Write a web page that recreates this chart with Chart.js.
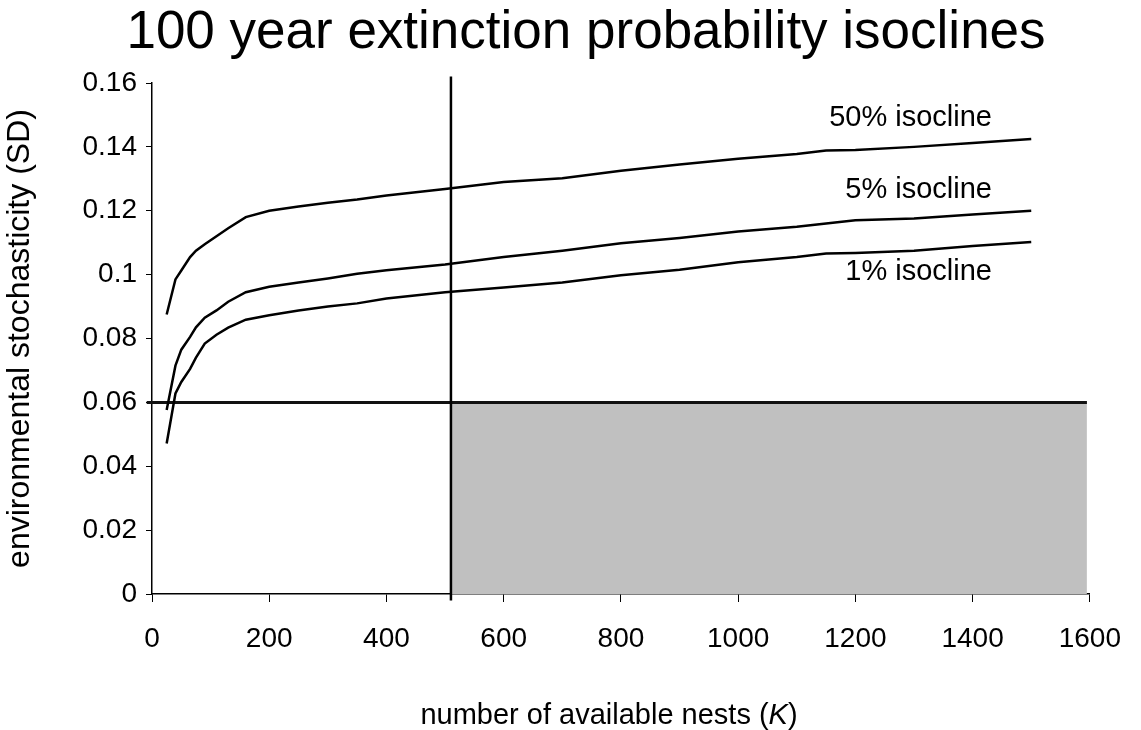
<!DOCTYPE html>
<html>
<head>
<meta charset="utf-8">
<title>100 year extinction probability isoclines</title>
<script src="https://cdn.jsdelivr.net/npm/chart.js@4.4.1/dist/chart.umd.min.js"></script>
<style>
    html, body { margin: 0; padding: 0; background: #fff; }
    #wrap { width: 1141px; height: 730px; }
</style>
</head>
<body>
<div id="wrap"><canvas id="isoChart" width="1141" height="730"></canvas></div>
<script>
    "use strict";

    // number of available nests (K)
    const nests = [25, 40, 50, 65, 75, 90, 110, 130, 160, 200, 250, 300, 350, 400,
                   500, 600, 700, 800, 900, 1000, 1100, 1150, 1200, 1300, 1400, 1500];

    // environmental SD giving each extinction probability
    const iso50 = [0.0875, 0.0985, 0.1013, 0.1055, 0.1075, 0.1095, 0.1120, 0.1145, 0.1180, 0.1200,
                   0.1213, 0.1225, 0.1235, 0.1248, 0.1268, 0.1290, 0.1302, 0.1325, 0.1345, 0.1363,
                   0.1378, 0.1389, 0.1390, 0.1400, 0.1412, 0.1425];
    const iso5  = [0.0576, 0.0715, 0.0765, 0.0805, 0.0835, 0.0865, 0.0888, 0.0915, 0.0945, 0.0962,
                   0.0975, 0.0988, 0.1003, 0.1014, 0.1032, 0.1055, 0.1075, 0.1098, 0.1115, 0.1135,
                   0.1150, 0.1160, 0.1170, 0.1176, 0.1188, 0.1200];
    const iso1  = [0.0471, 0.0628, 0.0664, 0.0705, 0.0740, 0.0784, 0.0812, 0.0834, 0.0859, 0.0873,
                   0.0888, 0.0900, 0.0910, 0.0925, 0.0945, 0.0960, 0.0975, 0.0998, 0.1015, 0.1039,
                   0.1055, 0.1066, 0.1068, 0.1075, 0.1090, 0.1102];

    const isoNames = ['50% isocline', '5% isocline', '1% isocline'];

    // threshold lines and the shaded viable region
    const kLimit = 510;
    const sdLimit = 0.06;
    const kShadeEnd = 1595;

    const FONT = '"Liberation Sans", Arial, sans-serif';

    function toPoints(xs, ys) {
        return xs.map((k, i) => ({ x: k, y: ys[i] }));
    }

    function curve(values) {
        return {
            data: toPoints(nests, values),
            borderColor: '#000',
            borderWidth: 2.5,
            pointRadius: 0,
            tension: 0,
            fill: false,
            order: 1
        };
    }

    // Title, x axis title (italic K) and isocline labels
    const textPlugin = {
        id: 'isoText',
        afterDraw(chart) {
            const ctx = chart.ctx;
            const xs = chart.scales.x;
            const ys = chart.scales.y;
            ctx.save();
            ctx.fillStyle = '#000';
            ctx.textBaseline = 'middle';

            ctx.font = '53px ' + FONT;
            ctx.textAlign = 'center';
            ctx.fillText('100 year extinction probability isoclines', 586, 33);

            // x axis title in three pieces so K can be italic
            const parts = [['number of available nests (', ''], ['K', 'italic '], [')', '']];
            let total = 0;
            parts.forEach(p => {
                ctx.font = p[1] + '29px ' + FONT;
                total += ctx.measureText(p[0]).width;
            });
            let x = 609 - total / 2;
            ctx.textAlign = 'left';
            parts.forEach(p => {
                ctx.font = p[1] + '29px ' + FONT;
                ctx.fillText(p[0], x, 716);
                x += ctx.measureText(p[0]).width;
            });

            const anchors = [[1433, 0.1489], [1433, 0.1264], [1433, 0.1007]];
            ctx.font = '29px ' + FONT;
            ctx.textAlign = 'right';
            anchors.forEach((a, i) => {
                ctx.fillText(isoNames[i], xs.getPixelForValue(a[0]), ys.getPixelForValue(a[1]));
            });
            ctx.restore();
        }
    };

    new Chart(document.getElementById('isoChart'), {
        type: 'line',
        data: {
            datasets: [
                curve(iso50),
                curve(iso5),
                curve(iso1),
                {
                    // vertical K threshold
                    data: [{ x: kLimit, y: -0.002 }, { x: kLimit, y: 0.162 }],
                    borderColor: '#000',
                    borderWidth: 2.5,
                    pointRadius: 0,
                    fill: false,
                    clip: false,
                    order: 2
                },
                {
                    // horizontal SD threshold
                    data: [{ x: -9, y: sdLimit }, { x: kShadeEnd, y: sdLimit }],
                    borderColor: '#111',
                    borderWidth: 3,
                    pointRadius: 0,
                    fill: false,
                    clip: false,
                    order: 3
                },
                {
                    // shaded region
                    data: [{ x: kLimit, y: sdLimit }, { x: kShadeEnd, y: sdLimit }],
                    borderWidth: 0,
                    borderColor: 'rgba(0,0,0,0)',
                    backgroundColor: '#c0c0c0',
                    pointRadius: 0,
                    fill: 'origin',
                    order: 4
                }
            ]
        },
        options: {
            responsive: false,
            animation: false,
            devicePixelRatio: 1,
            layout: { padding: { top: 83, right: 51, left: 0, bottom: 0 } },
            plugins: {
                legend: { display: false },
                tooltip: { enabled: false },
                title: { display: false }
            },
            scales: {
                x: {
                    type: 'linear',
                    min: 0,
                    max: 1600,
                    afterFit(scale) { scale.height = 136; },
                    ticks: {
                        stepSize: 200,
                        color: '#000',
                        padding: 20,
                        maxRotation: 0,
                        font: { family: FONT, size: 28 },
                        callback: v => String(v)
                    },
                    grid: {
                        drawOnChartArea: false,
                        color: '#000',
                        tickLength: 8,
                        lineWidth: 1
                    },
                    border: { display: true, color: '#000', width: 1.5 }
                },
                y: {
                    min: 0,
                    max: 0.16,
                    afterFit(scale) { scale.width = 152; },
                    ticks: {
                        stepSize: 0.02,
                        color: '#000',
                        padding: 9,
                        font: { family: FONT, size: 28 },
                        callback: v => String(parseFloat(v.toFixed(2)))
                    },
                    grid: {
                        drawOnChartArea: false,
                        color: '#000',
                        tickLength: 6,
                        lineWidth: 1
                    },
                    border: { display: true, color: '#000', width: 1.5 },
                    title: {
                        display: true,
                        text: 'environmental stochasticity (SD)',
                        color: '#000',
                        padding: { top: 4, bottom: 0 },
                        font: { family: FONT, size: 32, lineHeight: 1 }
                    }
                }
            }
        },
        plugins: [textPlugin]
    });
</script>
</body>
</html>
